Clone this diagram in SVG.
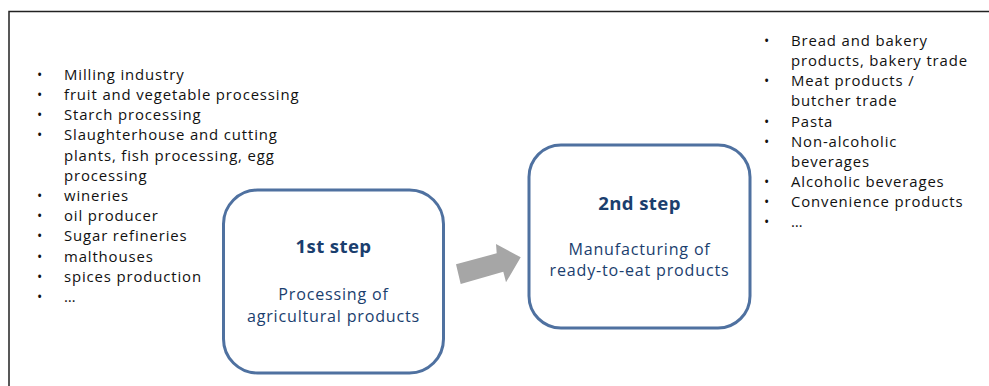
<svg xmlns="http://www.w3.org/2000/svg" width="989" height="386" viewBox="0 0 989 386">
<style>
.frame{fill:none;stroke:#222;stroke-width:1.5}
.box{fill:#fff;stroke:#4f71a0;stroke-width:3}
.li{font-family:"Open Sans","Noto Sans","DejaVu Sans",sans-serif;font-size:14.9px;letter-spacing:0.87px;fill:#111}
.b{font-size:14px;letter-spacing:0}
.t{font-family:"Open Sans","Noto Sans","DejaVu Sans",sans-serif;font-size:18.6px;letter-spacing:0.4px;font-weight:bold;fill:#1a3e6e;text-anchor:middle}
.s{font-family:"Open Sans","Noto Sans","DejaVu Sans",sans-serif;font-size:16.1px;letter-spacing:0.8px;fill:#1a3e6e;text-anchor:middle}
</style>
<rect width="989" height="386" fill="#fff"/>
<path class="frame" d="M9 386 V11.5 H989"/>
<g id="list-left" class="li">
<text class="b" x="37" y="80">•</text><text x="64" y="80">Milling industry</text>
<text class="b" x="37" y="100">•</text><text x="64" y="100">fruit and vegetable processing</text>
<text class="b" x="37" y="120">•</text><text x="64" y="120">Starch processing</text>
<text class="b" x="37" y="140">•</text><text x="64" y="140">Slaughterhouse and cutting</text>
<text x="64" y="161">plants, fish processing, egg</text>
<text x="64" y="181">processing</text>
<text class="b" x="37" y="201">•</text><text x="64" y="201">wineries</text>
<text class="b" x="37" y="221">•</text><text x="64" y="221">oil producer</text>
<text class="b" x="37" y="241">•</text><text x="64" y="241">Sugar refineries</text>
<text class="b" x="37" y="262">•</text><text x="64" y="262">malthouses</text>
<text class="b" x="37" y="282">•</text><text x="64" y="282">spices production</text>
<text class="b" x="37" y="302">•</text><text x="64" y="302">…</text>
</g>
<g id="list-right" class="li">
<text class="b" x="764" y="46">•</text><text x="791" y="46">Bread and bakery</text>
<text x="791" y="66">products, bakery trade</text>
<text class="b" x="764" y="86">•</text><text x="791" y="86">Meat products /</text>
<text x="791" y="106">butcher trade</text>
<text class="b" x="764" y="127">•</text><text x="791" y="127">Pasta</text>
<text class="b" x="764" y="147">•</text><text x="791" y="147">Non-alcoholic</text>
<text x="791" y="167">beverages</text>
<text class="b" x="764" y="187">•</text><text x="791" y="187">Alcoholic beverages</text>
<text class="b" x="764" y="207">•</text><text x="791" y="207">Convenience products</text>
<text class="b" x="764" y="227">•</text><text x="791" y="227">…</text>
</g>
<g id="step1">
<rect class="box" x="223.5" y="190" width="220" height="183" rx="34"/>
<text class="t" x="333.5" y="253">1st step</text>
<text class="s" x="333.5" y="300">Processing of</text>
<text class="s" x="333.5" y="322">agricultural products</text>
</g>
<g id="step2">
<rect class="box" x="529" y="145" width="221" height="183" rx="32"/>
<text class="t" x="639.5" y="210">2nd step</text>
<text class="s" x="639.5" y="255">Manufacturing of</text>
<text class="s" x="639.5" y="276">ready-to-eat products</text>
</g>
<g id="connectors">
<polygon points="456,264.3 496.7,253.3 496,244 520.7,257.3 506,282.3 503.3,271.7 460.7,284" fill="#a6a6a6"/>
</g>
</svg>
